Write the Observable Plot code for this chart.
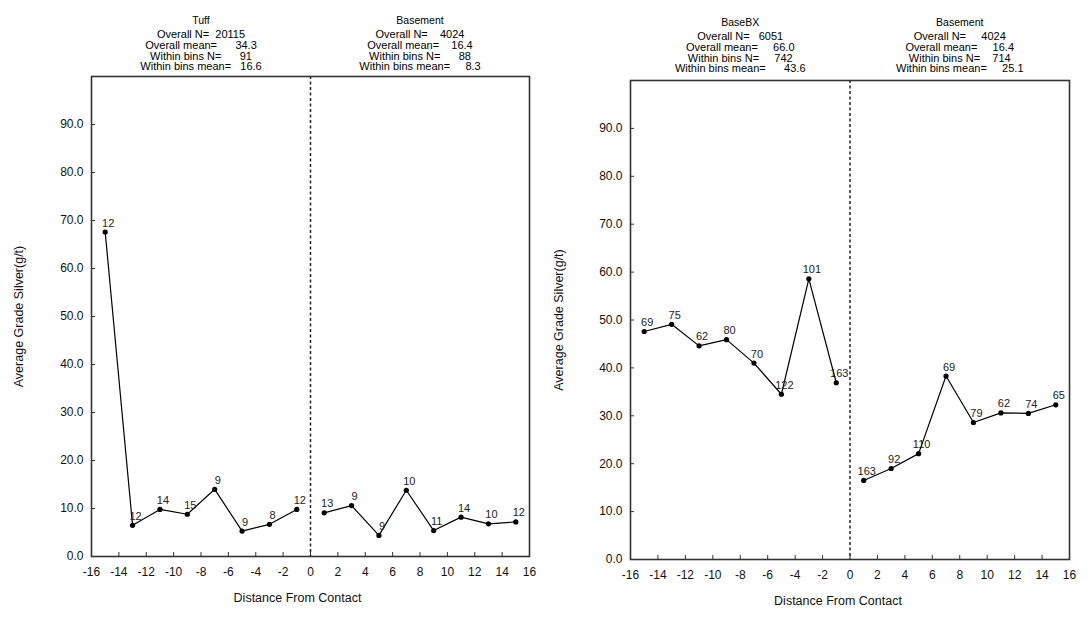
<!DOCTYPE html>
<html>
<head>
<meta charset="utf-8">
<script src="https://cdn.jsdelivr.net/npm/d3@7"></script>
<script src="https://cdn.jsdelivr.net/npm/@observablehq/plot@0.6"></script>
<style>
  html, body { margin: 0; padding: 0; background: #fff; }
  #wrap { display: flex; width: 1090px; height: 625px; }
  svg { font-family: "Liberation Sans", Arial, Helvetica, sans-serif; }
</style>
</head>
<body>
<div id="wrap"></div>
<script>
// ---------- data ----------
const xTicks = [-16,-14,-12,-10,-8,-6,-4,-2,0,2,4,6,8,10,12,14,16];
const yTicks = [0,10,20,30,40,50,60,70,80,90];
const xNeg = [-15,-13,-11,-9,-7,-5,-3,-1];
const xPos = [1,3,5,7,9,11,13,15];

// Left panel: Tuff vs Basement
const tuffMean   = [67.6, 6.5, 9.8, 8.8, 14.0, 5.3, 6.7, 9.8];
const tuffCount  = [12, 12, 14, 15, 9, 9, 8, 12];
const baseLMean  = [9.1, 10.6, 4.4, 13.8, 5.4, 8.2, 6.8, 7.2];
const baseLCount = [13, 9, 9, 10, 11, 14, 10, 12];

// Right panel: BaseBX vs Basement
const bbxMean    = [47.6, 49.1, 44.6, 45.9, 41.0, 34.5, 58.6, 36.9];
const bbxCount   = [69, 75, 62, 80, 70, 122, 101, 163];
const baseRMean  = [16.5, 19.0, 22.1, 38.3, 28.6, 30.6, 30.5, 32.3];
const baseRCount = [163, 92, 110, 69, 79, 62, 74, 65];

// Header statistics
const statLabels = ["Overall N=", "Overall mean=", "Within bins N=", "Within bins mean="];
const tuffStats   = ["20115", "34.3", "91", "16.6"];
const baseLStats  = ["4024", "16.4", "88", "8.3"];
const bbxStats    = ["6051", "66.0", "742", "43.6"];
const baseRStats  = ["4024", "16.4", "714", "25.1"];
const gaps = { tuff: [2,6,6,3], baseL: [4,4,6,5], bbx: [3,5,5,6], baseR: [5,5,4,5] };

const yLabel = "Average Grade Silver(g/t)";
const xLabel = "Distance From Contact";

// ---------- drawing ----------
const NB = "\u00A0";
function headerMarks(name, stats, gap, hx, mt, yTitle, yLines) {
  const marks = [
    Plot.text([name], {x: () => hx, frameAnchor: "top", dy: yTitle - mt, lineAnchor: "middle",
      fontSize: 10.5, fill: "#000", letterSpacing: 0.3})
  ];
  statLabels.forEach((lab, i) => {
    const s = lab + NB.repeat(gap[i]) + stats[i];
    marks.push(Plot.text([s], {x: () => hx, frameAnchor: "top", dy: yLines[i] - mt, lineAnchor: "middle",
      fontSize: 11, fill: "#000", letterSpacing: 0.55}));
  });
  return marks;
}

function panel(opts) {
  const {ml, mr, mt, mb, left, right} = opts;
  const rows = [];
  xNeg.forEach((x, i) => rows.push({x, y: left.mean[i], n: left.count[i], seg: "L"}));
  xPos.forEach((x, i) => rows.push({x, y: right.mean[i], n: right.count[i], seg: "R"}));
  return Plot.plot({
    width: 545,
    height: 625,
    marginLeft: ml, marginRight: mr, marginTop: mt, marginBottom: mb,
    style: {fontFamily: '"Liberation Sans", Arial, Helvetica, sans-serif', background: "#fff"},
    x: {domain: [-16, 16]},
    y: {domain: [0, 100]},
    marks: [
      Plot.ruleX([0], {stroke: "#222", strokeWidth: 1.5, strokeDasharray: "3,2.5"}),
      Plot.axisX({ticks: xTicks, tickFormat: d => String(d), tickSize: -4, tickPadding: 15,
        fontSize: 12, color: "#111", stroke: "#333", strokeWidth: 1, label: null}),
      Plot.axisY({ticks: yTicks, tickFormat: d3.format(".1f"), tickSize: -4, tickPadding: 12,
        fontSize: 12, color: "#111", stroke: "#333", strokeWidth: 1, label: null}),
      Plot.frame({stroke: "#333", strokeWidth: 1.6}),
      Plot.line(rows, {x: "x", y: "y", z: "seg", stroke: "#000", strokeWidth: 1.2}),
      Plot.dot(rows, {x: "x", y: "y", r: 2.6, fill: "#000", stroke: null}),
      Plot.text(rows, {x: "x", y: "y", text: d => String(d.n), dx: 3, dy: -9,
        fontSize: 11, fill: "#222"}),
      Plot.text([xLabel], {frameAnchor: "bottom", dy: 41, dx: opts.xdx, lineAnchor: "middle",
        fontSize: 12.5, fill: "#111"}),
      Plot.text([yLabel], {frameAnchor: "left", dx: opts.ydx, rotate: -90, lineAnchor: "middle",
        textAnchor: "middle", fontSize: 12.5, fill: "#111"}),
      ...headerMarks(left.name, left.stats, left.gap, -8, mt, opts.hy[0], opts.hy.slice(1)),
      ...headerMarks(right.name, right.stats, right.gap, 8, mt, opts.hy[0], opts.hy.slice(1))
    ]
  });
}

const wrap = document.getElementById("wrap");
wrap.appendChild(panel({
  ml: 91, mr: 16, mt: 76, mb: 69, xdx: -13, ydx: -73,
  hy: [20, 34.2, 44.8, 55.5, 66.3],
  left:  {name: "Tuff", mean: tuffMean, count: tuffCount, stats: tuffStats, gap: gaps.tuff},
  right: {name: "Basement", mean: baseLMean, count: baseLCount, stats: baseLStats, gap: gaps.baseL}
}));
wrap.appendChild(panel({
  ml: 85, mr: 21, mt: 80, mb: 66, xdx: -12, ydx: -72,
  hy: [22, 35.7, 46.7, 57.5, 67.8],
  left:  {name: "BaseBX", mean: bbxMean, count: bbxCount, stats: bbxStats, gap: gaps.bbx},
  right: {name: "Basement", mean: baseRMean, count: baseRCount, stats: baseRStats, gap: gaps.baseR}
}));
</script>
</body>
</html>
